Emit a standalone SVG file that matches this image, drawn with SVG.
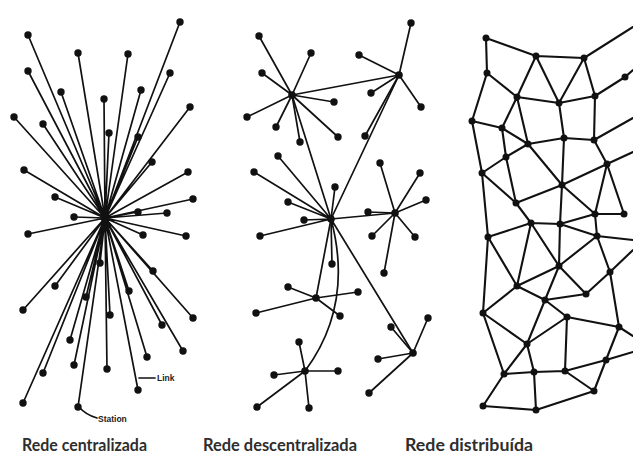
<svg xmlns="http://www.w3.org/2000/svg" width="633" height="464" viewBox="0 0 633 464">
<style>
.bg{fill:#ffffff}
.ln{stroke:#111;stroke-width:1.7;fill:none;stroke-linecap:round}
.ld{stroke:#111;stroke-width:2.1;fill:none;stroke-linecap:round;stroke-linejoin:round}
.n circle{fill:#111}
.cap{font-family:Lato,"Open Sans","Liberation Sans",sans-serif;font-weight:700;font-size:16.5px;fill:#2e2e2e}
.sm{font-family:"Liberation Sans",Arial,sans-serif;font-weight:700;font-size:8.5px;fill:#222}
</style>
<rect class="bg" x="0" y="0" width="633" height="464"/>
<g id="connectors">
<g id="central-links">
<path class="ln" d="M105,218L28,35M105,218L180,22M105,218L78,53M105,218L128,54M105,218L28,71M105,218L170,73M105,218L61,92M105,218L141,90M105,218L104,99M105,218L190,107M105,218L14,117M105,218L43,124M105,218L109,133M105,218L138,137M105,218L152,162M105,218L24,170M105,218L188,172M105,218L55,197M105,218L193,199M105,218L138,212M105,218L167,213M105,218L74,217M105,218L28,234M105,218L143,235M105,218L186,236M105,218L100,263M105,218L153,271M105,218L55,286M105,218L129,291M105,218L86,297M105,218L23,310M105,218L193,318M105,218L110,315M105,218L162,325M105,218L70,340M105,218L183,351M105,218L147,357M105,218L74,365M105,218L107,369M105,218L43,373M105,218L138,390M105,218L23,403M105,218L78,407"/>
<path class="ln" d="M139,378H155M79,407Q86,415 97,418"/>
</g>
<g id="decentral-links">
<path class="ln" d="M292,95L259,36M292,95L311,53M292,95L262,73M292,95L247,117M292,95L276,127M292,95L300,142M292,95L334,102M292,95L338,137"/>
<path class="ln" d="M399,75L411,23M399,75L359,55M399,75L371,93M399,75L365,136M399,75L421,107"/>
<path class="ln" d="M331,219L278,156M331,219L254,172M331,219L335,187M331,219L288,202M331,219L304,220M331,219L260,236M331,219L332,264"/>
<path class="ln" d="M395,213L380,163M395,213L420,173M395,213L426,200M395,213L368,212M395,213L372,236M395,213L415,237M395,213L384,273"/>
<path class="ln" d="M316,298L288,287M316,298L358,292M316,298L256,313M316,298L340,316"/>
<path class="ln" d="M305,371L299,342M305,371L274,375M305,371L338,371M305,371L257,407M305,371L309,408"/>
<path class="ln" d="M413,353L391,327M413,353L378,359M413,353L369,393M413,353L428,318"/>
<path class="ln" d="M292,95L399,75M292,95L331,219M399,75L331,219M331,219L395,213M331,219L316,298M331,219Q354,305 305,371M331,219L413,353"/>
</g>
<g id="distributed-links">
<path class="ld" d="M486,38L536,56L584,58L633,27M486,38L487,73L517,97L559,103L595,96L625,77L633,70M487,73L472,121M536,56L517,97M536,56L559,103M584,58L559,103M584,58L595,96M517,97L502,128M517,97L528,144M559,103L564,138M595,96L594,140M472,121L502,128L528,144L564,138L594,140L633,118M472,121L482,173M502,128L506,157L482,173M506,157L528,144M528,144L562,185M564,138L562,185M594,140L607,164L633,152M607,164L562,185M607,164L595,214M607,164L624,214M482,173L516,203M506,157L516,203M562,185L516,203M562,185L595,214M482,173L488,237M562,185L560,224M516,203L531,223L560,224L595,214L624,214M595,214L597,236M488,237L531,223M560,224L597,236L633,240M531,223L517,286M531,223L559,266M560,224L559,266M597,236L559,266M488,237L517,286L559,266M597,236L610,272L633,250M559,266L545,300M559,266L586,294M517,286L545,300L586,294L610,272M488,237L483,313M517,286L483,313M545,300L567,317L619,327M610,272L619,327M545,300L527,344M483,313L527,344M567,317L527,344M619,327L606,360M619,327L633,336M483,313L504,374M527,344L504,374M527,344L534,372M504,374L534,372L565,371M567,317L565,371M565,371L606,360L633,352M565,371L594,391M606,360L594,391M504,374L483,406L536,410M534,372L536,410M536,410L594,391"/>
</g>
</g>
<g id="central-nodes" class="n">
<g id="hub-central"><circle cx="105" cy="218" r="4.5"/></g>
<g id="c1"><circle cx="28" cy="35" r="3.7"/></g>
<g id="c2"><circle cx="180" cy="22" r="3.7"/></g>
<g id="c3"><circle cx="78" cy="53" r="3.7"/></g>
<g id="c4"><circle cx="128" cy="54" r="3.7"/></g>
<g id="c5"><circle cx="28" cy="71" r="3.7"/></g>
<g id="c6"><circle cx="170" cy="73" r="3.7"/></g>
<g id="c7"><circle cx="61" cy="92" r="3.7"/></g>
<g id="c8"><circle cx="141" cy="90" r="3.7"/></g>
<g id="c9"><circle cx="104" cy="99" r="3.7"/></g>
<g id="c10"><circle cx="190" cy="107" r="3.7"/></g>
<g id="c11"><circle cx="14" cy="117" r="3.7"/></g>
<g id="c12"><circle cx="43" cy="124" r="3.7"/></g>
<g id="c13"><circle cx="109" cy="133" r="3.7"/></g>
<g id="c14"><circle cx="138" cy="137" r="3.7"/></g>
<g id="c15"><circle cx="152" cy="162" r="3.7"/></g>
<g id="c16"><circle cx="24" cy="170" r="3.7"/></g>
<g id="c17"><circle cx="188" cy="172" r="3.7"/></g>
<g id="c18"><circle cx="55" cy="197" r="3.7"/></g>
<g id="c19"><circle cx="193" cy="199" r="3.7"/></g>
<g id="c20"><circle cx="138" cy="212" r="3.7"/></g>
<g id="c21"><circle cx="167" cy="213" r="3.7"/></g>
<g id="c22"><circle cx="74" cy="217" r="3.7"/></g>
<g id="c23"><circle cx="28" cy="234" r="3.7"/></g>
<g id="c24"><circle cx="143" cy="235" r="3.7"/></g>
<g id="c25"><circle cx="186" cy="236" r="3.7"/></g>
<g id="c26"><circle cx="100" cy="263" r="3.7"/></g>
<g id="c27"><circle cx="153" cy="271" r="3.7"/></g>
<g id="c28"><circle cx="55" cy="286" r="3.7"/></g>
<g id="c29"><circle cx="129" cy="291" r="3.7"/></g>
<g id="c30"><circle cx="86" cy="297" r="3.7"/></g>
<g id="c31"><circle cx="23" cy="310" r="3.7"/></g>
<g id="c32"><circle cx="193" cy="318" r="3.7"/></g>
<g id="c33"><circle cx="110" cy="315" r="3.7"/></g>
<g id="c34"><circle cx="162" cy="325" r="3.7"/></g>
<g id="c35"><circle cx="70" cy="340" r="3.7"/></g>
<g id="c36"><circle cx="183" cy="351" r="3.7"/></g>
<g id="c37"><circle cx="147" cy="357" r="3.7"/></g>
<g id="c38"><circle cx="74" cy="365" r="3.7"/></g>
<g id="c39"><circle cx="107" cy="369" r="3.7"/></g>
<g id="c40"><circle cx="43" cy="373" r="3.7"/></g>
<g id="c41"><circle cx="138" cy="390" r="3.7"/></g>
<g id="c42"><circle cx="23" cy="403" r="3.7"/></g>
<g id="c43"><circle cx="78" cy="407" r="3.7"/></g>
</g>
<g id="decentral-nodes" class="n">
<g id="hubA"><circle cx="292" cy="95" r="3.8"/></g>
<g id="hubB"><circle cx="399" cy="75" r="3.8"/></g>
<g id="hubC"><circle cx="331" cy="219" r="3.8"/></g>
<g id="hubD"><circle cx="395" cy="213" r="3.8"/></g>
<g id="hubE"><circle cx="316" cy="298" r="3.8"/></g>
<g id="hubF"><circle cx="305" cy="371" r="3.8"/></g>
<g id="hubG"><circle cx="413" cy="353" r="3.8"/></g>
<g id="a1"><circle cx="259" cy="36" r="3.7"/></g>
<g id="a2"><circle cx="311" cy="53" r="3.7"/></g>
<g id="a3"><circle cx="262" cy="73" r="3.7"/></g>
<g id="a4"><circle cx="247" cy="117" r="3.7"/></g>
<g id="a5"><circle cx="276" cy="127" r="3.7"/></g>
<g id="a6"><circle cx="300" cy="142" r="3.7"/></g>
<g id="a7"><circle cx="334" cy="102" r="3.7"/></g>
<g id="a8"><circle cx="338" cy="137" r="3.7"/></g>
<g id="b1"><circle cx="411" cy="23" r="3.7"/></g>
<g id="b2"><circle cx="359" cy="55" r="3.7"/></g>
<g id="b3"><circle cx="371" cy="93" r="3.7"/></g>
<g id="b4"><circle cx="365" cy="136" r="3.7"/></g>
<g id="b5"><circle cx="421" cy="107" r="3.7"/></g>
<g id="cc1"><circle cx="278" cy="156" r="3.7"/></g>
<g id="cc2"><circle cx="254" cy="172" r="3.7"/></g>
<g id="cc3"><circle cx="335" cy="187" r="3.7"/></g>
<g id="cc4"><circle cx="288" cy="202" r="3.7"/></g>
<g id="cc5"><circle cx="304" cy="220" r="3.7"/></g>
<g id="cc6"><circle cx="260" cy="236" r="3.7"/></g>
<g id="cc7"><circle cx="332" cy="264" r="3.7"/></g>
<g id="d1"><circle cx="380" cy="163" r="3.7"/></g>
<g id="d2"><circle cx="420" cy="173" r="3.7"/></g>
<g id="d3"><circle cx="426" cy="200" r="3.7"/></g>
<g id="d4"><circle cx="368" cy="212" r="3.7"/></g>
<g id="d5"><circle cx="372" cy="236" r="3.7"/></g>
<g id="d6"><circle cx="415" cy="237" r="3.7"/></g>
<g id="d7"><circle cx="384" cy="273" r="3.7"/></g>
<g id="e1"><circle cx="288" cy="287" r="3.7"/></g>
<g id="e2"><circle cx="358" cy="292" r="3.7"/></g>
<g id="e3"><circle cx="256" cy="313" r="3.7"/></g>
<g id="e4"><circle cx="340" cy="316" r="3.7"/></g>
<g id="f1"><circle cx="299" cy="342" r="3.7"/></g>
<g id="f2"><circle cx="274" cy="375" r="3.7"/></g>
<g id="f3"><circle cx="338" cy="371" r="3.7"/></g>
<g id="f4"><circle cx="257" cy="407" r="3.7"/></g>
<g id="f5"><circle cx="309" cy="408" r="3.7"/></g>
<g id="g1"><circle cx="391" cy="327" r="3.7"/></g>
<g id="g2"><circle cx="378" cy="359" r="3.7"/></g>
<g id="g3"><circle cx="369" cy="393" r="3.7"/></g>
<g id="g4"><circle cx="428" cy="318" r="3.7"/></g>
</g>
<g id="distributed-nodes" class="n">
<g id="n1"><circle cx="486" cy="38" r="3.5"/></g>
<g id="n2"><circle cx="536" cy="56" r="3.5"/></g>
<g id="n3"><circle cx="584" cy="58" r="3.5"/></g>
<g id="n5"><circle cx="487" cy="73" r="3.5"/></g>
<g id="n6"><circle cx="517" cy="97" r="3.5"/></g>
<g id="n7"><circle cx="559" cy="103" r="3.5"/></g>
<g id="n8"><circle cx="595" cy="96" r="3.5"/></g>
<g id="n9"><circle cx="625" cy="77" r="3.5"/></g>
<g id="n10"><circle cx="472" cy="121" r="3.5"/></g>
<g id="n11"><circle cx="502" cy="128" r="3.5"/></g>
<g id="n12"><circle cx="528" cy="144" r="3.5"/></g>
<g id="n13"><circle cx="564" cy="138" r="3.5"/></g>
<g id="n14"><circle cx="594" cy="140" r="3.5"/></g>
<g id="n15"><circle cx="506" cy="157" r="3.5"/></g>
<g id="n16"><circle cx="482" cy="173" r="3.5"/></g>
<g id="n17"><circle cx="607" cy="164" r="3.5"/></g>
<g id="n18"><circle cx="562" cy="185" r="3.5"/></g>
<g id="n19"><circle cx="516" cy="203" r="3.5"/></g>
<g id="n20"><circle cx="595" cy="214" r="3.5"/></g>
<g id="n21"><circle cx="624" cy="214" r="3.5"/></g>
<g id="n22"><circle cx="531" cy="223" r="3.5"/></g>
<g id="n23"><circle cx="560" cy="224" r="3.5"/></g>
<g id="n24"><circle cx="488" cy="237" r="3.5"/></g>
<g id="n25"><circle cx="597" cy="236" r="3.5"/></g>
<g id="n26"><circle cx="559" cy="266" r="3.5"/></g>
<g id="n27"><circle cx="610" cy="272" r="3.5"/></g>
<g id="n28"><circle cx="517" cy="286" r="3.5"/></g>
<g id="n29"><circle cx="586" cy="294" r="3.5"/></g>
<g id="n30"><circle cx="545" cy="300" r="3.5"/></g>
<g id="n31"><circle cx="483" cy="313" r="3.5"/></g>
<g id="n32"><circle cx="567" cy="317" r="3.5"/></g>
<g id="n33"><circle cx="619" cy="327" r="3.5"/></g>
<g id="n34"><circle cx="527" cy="344" r="3.5"/></g>
<g id="n35"><circle cx="606" cy="360" r="3.5"/></g>
<g id="n36"><circle cx="504" cy="374" r="3.5"/></g>
<g id="n37"><circle cx="534" cy="372" r="3.5"/></g>
<g id="n38"><circle cx="565" cy="371" r="3.5"/></g>
<g id="n39"><circle cx="594" cy="391" r="3.5"/></g>
<g id="n40"><circle cx="483" cy="406" r="3.5"/></g>
<g id="n41"><circle cx="536" cy="410" r="3.5"/></g>
</g>
<g id="labels">
<text class="sm" x="157" y="381">Link</text>
<text class="sm" x="98" y="422">Station</text>
<text class="cap" x="22" y="451" textLength="125" lengthAdjust="spacingAndGlyphs">Rede centralizada</text>
<text class="cap" x="203" y="451" textLength="154" lengthAdjust="spacingAndGlyphs">Rede descentralizada</text>
<text class="cap" x="405" y="451" textLength="128" lengthAdjust="spacingAndGlyphs">Rede distribuída</text>
</g>
</svg>
